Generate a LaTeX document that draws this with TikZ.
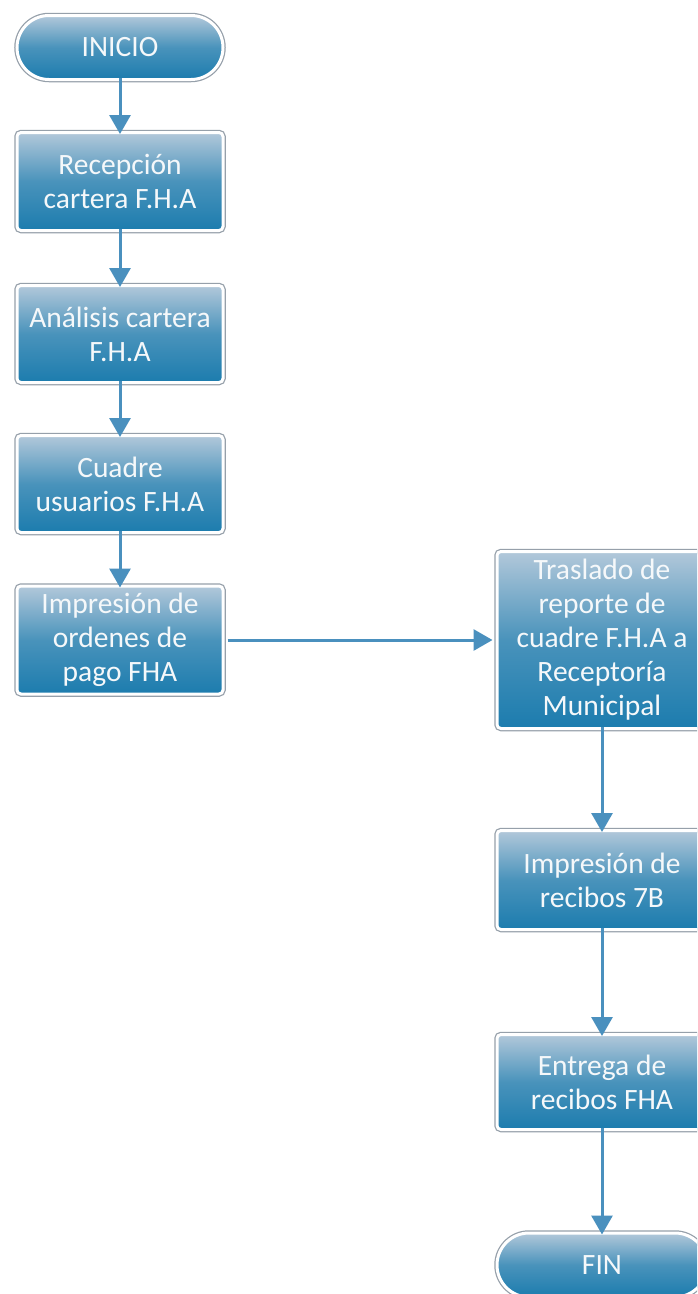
\documentclass[tikz,border=0pt]{standalone}
\usepackage{fontspec}
\setmainfont{Carlito}
\usetikzlibrary{arrows.meta,shapes.misc}
\definecolor{topc}{RGB}{178,200,218}
\definecolor{botc}{RGB}{28,124,174}
\definecolor{arrc}{RGB}{74,144,190}
\definecolor{rimc}{RGB}{150,160,170}
\definecolor{txtc}{RGB}{245,248,250}
\begin{document}
\begin{tikzpicture}[x=1pt,y=-1pt,
  every node/.style={font=\fontsize{29.5}{34}\selectfont, text=txtc, align=center, inner sep=0pt},
  procbox/.style={rectangle, rounded corners=4pt, minimum width=206pt,
    top color=topc, bottom color=botc, middle color=botc!70!topc,
    draw=white, line width=3pt,
    preaction={draw=rimc, line width=5.5pt}},
  termbox/.style={rounded rectangle, minimum width=206pt, minimum height=64pt,
    top color=topc, bottom color=botc, middle color=botc!70!topc,
    draw=white, line width=3pt,
    preaction={draw=rimc, line width=5.5pt}},
  flow/.style={draw=arrc, line width=3pt, -{Triangle[width=21pt,length=19pt]}}
]
\useasboundingbox (0,0) rectangle (697,1294);
\clip (0,0) rectangle (697,1294);
\fill[white] (0,0) rectangle (697,1294);

\node[termbox] (ini) at (120,47.5) {INICIO};
\node[procbox, minimum height=98pt] (b1) at (120,181.5) {Recepción\\cartera F.H.A};
\node[procbox, minimum height=97pt] (b2) at (120,334) {Análisis cartera\\F.H.A};
\node[procbox, minimum height=97pt] (b3) at (120,484) {Cuadre\\usuarios F.H.A};
\node[procbox, minimum height=108pt] (b4) at (120,640) {Impresión de\\ordenes de\\pago FHA};

\node[procbox, minimum width=210pt, minimum height=177pt] (t) at (602,640) {Traslado de\\reporte de\\cuadre F.H.A a\\Receptoría\\Municipal};
\node[procbox, minimum width=210pt, minimum height=99pt] (r) at (602,880) {Impresión de\\recibos 7B};
\node[procbox, minimum width=210pt, minimum height=95pt] (e) at (602,1082) {Entrega de\\recibos FHA};
\node[termbox, minimum width=210pt] (fin) at (602,1265) {FIN};

\draw[flow] ([yshift=3pt]ini.south) -- ([yshift=-3pt]b1.north);
\draw[flow] ([yshift=3pt]b1.south) -- ([yshift=-3pt]b2.north);
\draw[flow] ([yshift=3pt]b2.south) -- ([yshift=-3pt]b3.north);
\draw[flow] ([yshift=3pt]b3.south) -- ([yshift=-3pt]b4.north);
\draw[flow] ([xshift=3pt]b4.east) -- ([xshift=-3pt]t.west);
\draw[flow] ([yshift=3pt]t.south) -- ([yshift=-3pt]r.north);
\draw[flow] ([yshift=3pt]r.south) -- ([yshift=-3pt]e.north);
\draw[flow] ([yshift=3pt]e.south) -- ([yshift=-3pt]fin.north);
\end{tikzpicture}
\end{document}
